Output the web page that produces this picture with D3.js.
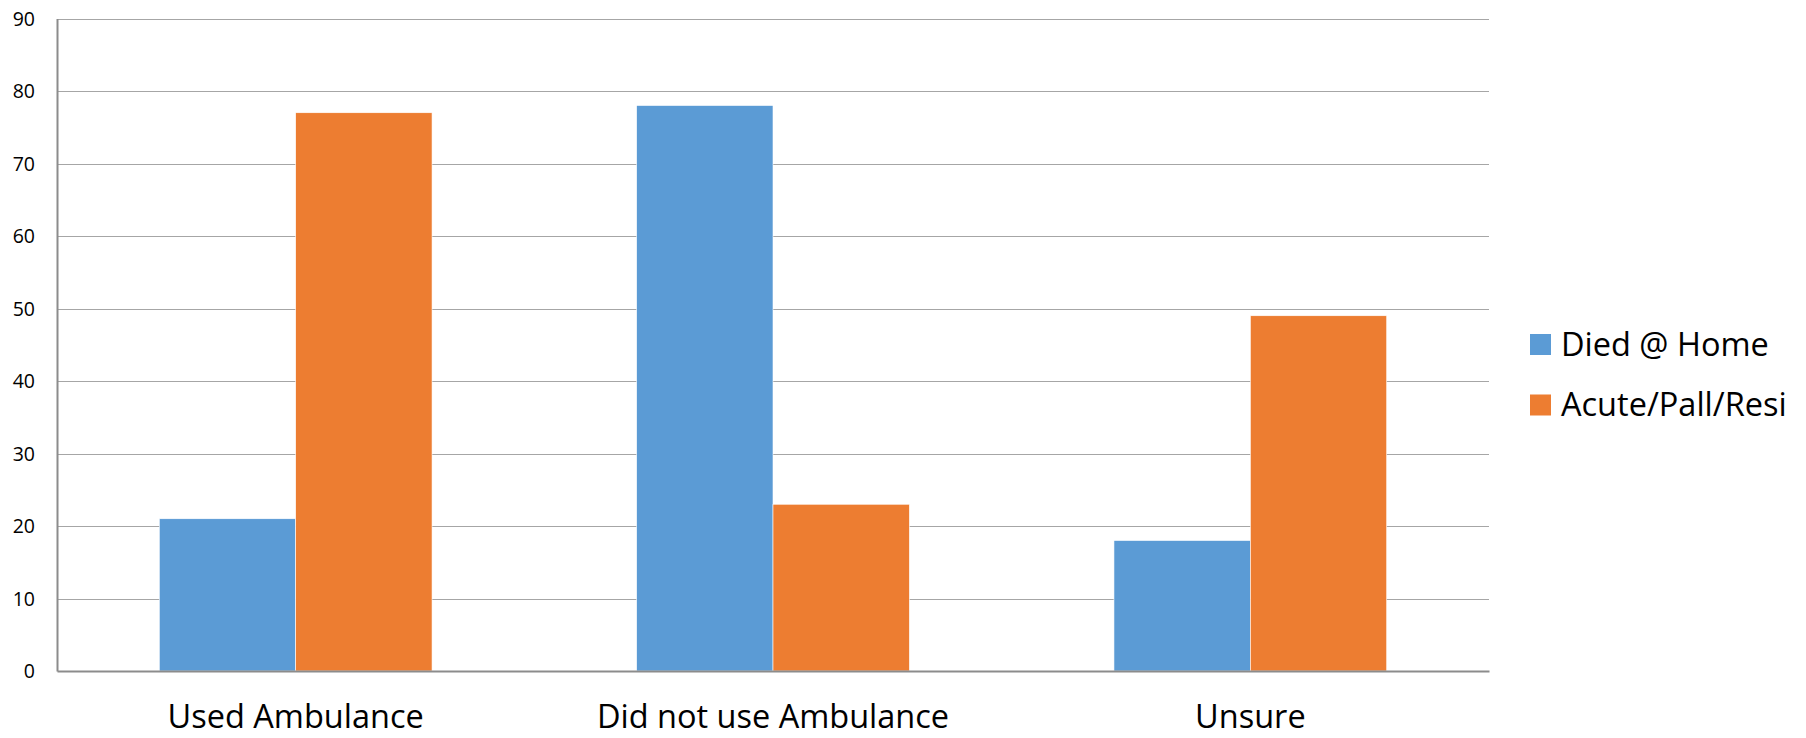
<!DOCTYPE html>
<html>
<head>
<meta charset="utf-8">
<script src="https://cdn.jsdelivr.net/npm/d3@7"></script>
<style>
  html, body { margin: 0; padding: 0; background: #fff; }
  svg { display: block; }
  text { font-family: "Open Sans", "DejaVu Sans", sans-serif; fill: #000; }
</style>
</head>
<body>
<svg id="chart" width="1806" height="738"></svg>
<script>
// Place of death by ambulance use
const categories = ["Used Ambulance", "Did not use Ambulance", "Unsure"];
const seriesNames = ["Died @ Home", "Acute/Pall/Resi"];
const diedAtHome = [21, 78, 18];
const acutePallResi = [77, 23, 49];
const yTicks = [0, 10, 20, 30, 40, 50, 60, 70, 80, 90];
const colors = ["#5B9BD5", "#ED7D31"];

const seriesValues = [diedAtHome, acutePallResi];
const rows = categories.map((c, i) => ({
  category: c,
  values: seriesNames.map((s, j) => ({ series: s, value: seriesValues[j][i], idx: j }))
}));

const svg = d3.select("#chart");
const margin = { left: 57, right: 317, top: 18.5, bottom: 67 };
const W = 1806, H = 738;
const x0 = margin.left, x1 = W - margin.right;
const yTop = margin.top, yBot = H - margin.bottom;

const x = d3.scaleBand().domain(categories).range([x0, x1]).paddingInner(0).paddingOuter(0);
// Bar width so that the gap between groups is 150% of one bar
const barW = x.bandwidth() / (2 + 1.5);
const xs = d3.scaleBand().domain(seriesNames)
  .range([0, barW * 2]);
const y = d3.scaleLinear().domain([0, 90]).range([yBot, yTop]);

// Horizontal gridlines
svg.append("g")
  .selectAll("line")
  .data(yTicks.filter(t => t > 0))
  .join("line")
  .attr("x1", x0).attr("x2", x1)
  .attr("y1", d => Math.round(y(d)) + 0.5).attr("y2", d => Math.round(y(d)) + 0.5)
  .attr("stroke", "#a6a6a6").attr("stroke-width", 1.2);

// Bars
const groups = svg.append("g")
  .selectAll("g")
  .data(rows)
  .join("g")
  .attr("transform", d => `translate(${x(d.category) + (x.bandwidth() - barW * 2) / 2},0)`);

groups.selectAll("rect")
  .data(d => d.values)
  .join("rect")
  .attr("x", d => xs(d.series))
  .attr("width", xs.bandwidth())
  .attr("y", d => y(d.value))
  .attr("height", d => y(0) - y(d.value))
  .attr("fill", d => colors[d.idx])
  .attr("stroke", "#fff")
  .attr("stroke-width", 0.6);

// Y axis
const yAxis = d3.axisLeft(y).tickValues(yTicks).tickSize(0).tickPadding(22);
const gy = svg.append("g").attr("transform", `translate(${x0},0)`).call(yAxis);
gy.select(".domain").attr("stroke", "#8c8c8c").attr("stroke-width", 2);
gy.selectAll("text").style("font-size", "19.5px").attr("dy", "0.35em");

// X axis
const xAxis = d3.axisBottom(x).tickSize(0).tickPadding(0);
const gx = svg.append("g").attr("transform", `translate(0,${yBot})`).call(xAxis);
gx.select(".domain").attr("stroke", "#8c8c8c").attr("stroke-width", 2);
gx.selectAll("text").style("font-size", "32.5px").attr("y", 57).attr("dy", 0);

// Legend
const legend = svg.append("g").attr("transform", "translate(1530,334)");
const li = legend.selectAll("g")
  .data(seriesNames)
  .join("g")
  .attr("transform", (d, i) => `translate(0,${i * 60.5})`);
li.append("rect").attr("width", 21).attr("height", 21).attr("fill", (d, i) => colors[i]);
li.append("text").attr("x", 31).attr("y", 21.5).style("font-size", "32.5px").text(d => d);
</script>
</body>
</html>
